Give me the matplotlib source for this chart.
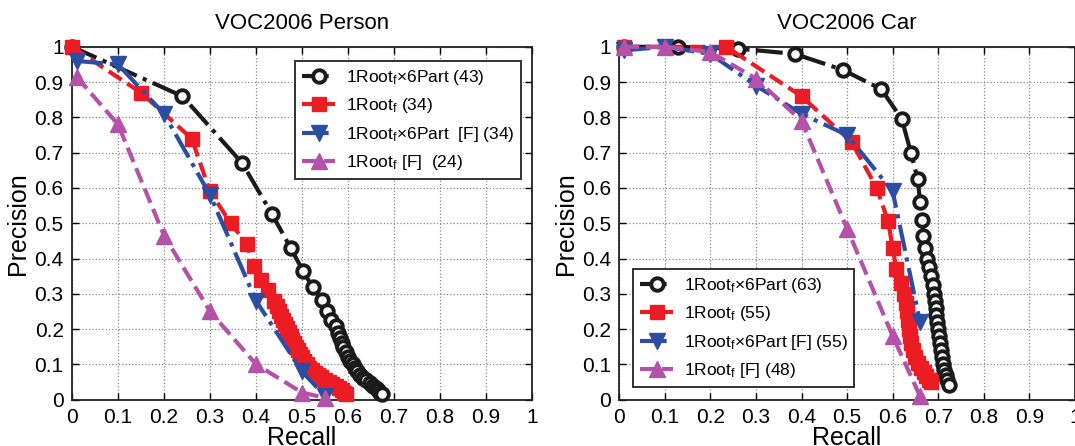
import matplotlib
matplotlib.use('Agg')
import matplotlib.pyplot as plt

plt.rcParams['font.family'] = ['Liberation Sans', 'DejaVu Sans']
plt.rcParams['mathtext.fontset'] = 'custom'
plt.rcParams['mathtext.rm'] = 'Liberation Sans'
plt.rcParams['mathtext.it'] = 'Liberation Sans'

# ---- VOC2006 Person ----
person_part_r = [0.0, 0.24, 0.37, 0.435, 0.475, 0.502, 0.523, 0.543, 0.555, 0.563, 0.573,
                 0.578, 0.582, 0.586, 0.59, 0.595, 0.6, 0.605, 0.61, 0.615, 0.62, 0.626,
                 0.632, 0.64, 0.647, 0.654, 0.66, 0.665, 0.67, 0.674]
person_part_p = [1.0, 0.86, 0.67, 0.525, 0.43, 0.365, 0.318, 0.282, 0.252, 0.225, 0.208,
                 0.19, 0.175, 0.16, 0.148, 0.135, 0.122, 0.11, 0.1, 0.09, 0.08, 0.07,
                 0.062, 0.055, 0.048, 0.04, 0.033, 0.026, 0.02, 0.015]
person_root_r = [0.0, 0.15, 0.26, 0.3, 0.345, 0.38, 0.395, 0.41, 0.425, 0.44, 0.445, 0.45,
                 0.455, 0.459, 0.463, 0.467, 0.471, 0.475, 0.479, 0.483, 0.487, 0.491,
                 0.495, 0.5, 0.505, 0.51, 0.516, 0.522, 0.528, 0.535, 0.542, 0.55, 0.558,
                 0.566, 0.574, 0.58, 0.586, 0.591, 0.595]
person_root_p = [1.0, 0.87, 0.74, 0.59, 0.5, 0.44, 0.38, 0.34, 0.31, 0.28, 0.265, 0.25,
                 0.237, 0.225, 0.213, 0.202, 0.191, 0.18, 0.17, 0.16, 0.15, 0.14,
                 0.13, 0.12, 0.11, 0.1, 0.091, 0.083, 0.076, 0.069, 0.063, 0.057, 0.051,
                 0.045, 0.038, 0.032, 0.026, 0.02, 0.015]
person_partF_r = [0.01, 0.1, 0.2, 0.3, 0.4, 0.5, 0.55]
person_partF_p = [0.96, 0.95, 0.81, 0.58, 0.28, 0.08, 0.01]
person_rootF_r = [0.01, 0.1, 0.2, 0.3, 0.4, 0.5, 0.55]
person_rootF_p = [0.915, 0.78, 0.465, 0.25, 0.1, 0.02, 0.005]

# ---- VOC2006 Car ----
car_part_r = [0.01, 0.13, 0.26, 0.385, 0.49, 0.575, 0.62, 0.64, 0.655, 0.66, 0.665, 0.667,
              0.672, 0.675, 0.68, 0.683, 0.688, 0.69, 0.692, 0.694, 0.696, 0.698, 0.7,
              0.702, 0.704, 0.706, 0.708, 0.71, 0.713, 0.716, 0.72, 0.724]
car_part_p = [1.0, 1.0, 0.995, 0.98, 0.935, 0.88, 0.795, 0.70, 0.625, 0.56, 0.51, 0.465,
              0.43, 0.40, 0.375, 0.35, 0.325, 0.3, 0.28, 0.26, 0.24, 0.22, 0.2,
              0.18, 0.16, 0.14, 0.12, 0.1, 0.085, 0.07, 0.055, 0.042]
car_root_r = [0.01, 0.235, 0.4, 0.51, 0.565, 0.59, 0.6, 0.608, 0.618, 0.625, 0.63, 0.632,
              0.634, 0.636, 0.638, 0.641, 0.645, 0.65, 0.656, 0.662, 0.668, 0.674, 0.68, 0.685]
car_root_p = [1.0, 1.0, 0.86, 0.73, 0.6, 0.505, 0.43, 0.37, 0.33, 0.30, 0.275, 0.25,
              0.225, 0.2, 0.18, 0.16, 0.14, 0.12, 0.105, 0.09, 0.078, 0.066, 0.055, 0.05]
car_partF_r = [0.01, 0.1, 0.2, 0.3, 0.4, 0.5, 0.6, 0.66]
car_partF_p = [0.99, 1.0, 0.98, 0.89, 0.81, 0.75, 0.59, 0.22]
car_rootF_r = [0.01, 0.1, 0.2, 0.3, 0.4, 0.5, 0.6, 0.66]
car_rootF_p = [1.0, 1.0, 0.985, 0.91, 0.79, 0.485, 0.18, 0.01]

person_labels = [r'1Root$_\mathrm{f}$×6Part (43)', r'1Root$_\mathrm{f}$ (34)',
                 r'1Root$_\mathrm{f}$×6Part  [F] (34)', r'1Root$_\mathrm{f}$ [F]  (24)']
car_labels = [r'1Root$_\mathrm{f}$×6Part (63)', r'1Root$_\mathrm{f}$ (55)',
              r'1Root$_\mathrm{f}$×6Part [F] (55)', r'1Root$_\mathrm{f}$ [F] (48)']

ticks = [0, 0.1, 0.2, 0.3, 0.4, 0.5, 0.6, 0.7, 0.8, 0.9, 1]
tick_labels = ['0', '0.1', '0.2', '0.3', '0.4', '0.5', '0.6', '0.7', '0.8', '0.9', '1']

BLACK = '#1a1a1a'
RED = '#ec1c24'
BLUE = '#2b4ea2'
MAGENTA = '#b452aa'


def draw_panel(ax, series, labels, title, legend_loc, legend_anchor):
    styles = [
        dict(color=BLACK, linestyle='-.', marker='o', markersize=9, markerfacecolor='white',
             markeredgecolor=BLACK, markeredgewidth=2.8, linewidth=3),
        dict(color=RED, linestyle='--', marker='s', markersize=10, markerfacecolor=RED,
             markeredgecolor=RED, linewidth=3),
        dict(color=BLUE, linestyle='-.', marker='v', markersize=12, markerfacecolor=BLUE,
             markeredgecolor=BLUE, linewidth=3),
        dict(color=MAGENTA, linestyle='--', marker='^', markersize=12, markerfacecolor=MAGENTA,
             markeredgecolor=MAGENTA, linewidth=3),
    ]
    for (r, p), lab, st in zip(series, labels, styles):
        ax.plot(r, p, label=lab, clip_on=False, zorder=3, **st)

    ax.set_xlim(0, 1)
    ax.set_ylim(0, 1)
    ax.set_xticks(ticks)
    ax.set_yticks(ticks)
    ax.set_xticklabels(tick_labels, fontsize=15)
    ax.set_yticklabels(tick_labels, fontsize=15)
    ax.tick_params(direction='in', length=5, width=1, top=True, right=True, pad=6)
    ax.grid(True, linestyle=':', color='#888888', linewidth=0.9)
    for s in ax.spines.values():
        s.set_linewidth(1.3)
        s.set_color('#222222')
    ax.set_title(title, fontsize=16, pad=13)
    ax.set_xlabel('Recall', fontsize=18, labelpad=-1)
    ax.set_ylabel('Precision', fontsize=18, labelpad=3)
    leg = ax.legend(loc=legend_loc, bbox_to_anchor=legend_anchor, fontsize=12.5,
                    fancybox=False, framealpha=1, edgecolor='#222222',
                    handlelength=1.9, handletextpad=0.6, labelspacing=0.55, borderpad=0.4)
    leg.get_frame().set_linewidth(1.3)


fig = plt.figure(figsize=(10.75, 4.46), dpi=100)
ax1 = fig.add_axes([0.067, 0.104, 0.428, 0.791])
ax2 = fig.add_axes([0.576, 0.104, 0.424, 0.791])

draw_panel(ax1,
           [(person_part_r, person_part_p), (person_root_r, person_root_p),
            (person_partF_r, person_partF_p), (person_rootF_r, person_rootF_p)],
           person_labels, 'VOC2006 Person', 'upper right', (0.995, 0.985))
draw_panel(ax2,
           [(car_part_r, car_part_p), (car_root_r, car_root_p),
            (car_partF_r, car_partF_p), (car_rootF_r, car_rootF_p)],
           car_labels, 'VOC2006 Car', 'lower left', (0.012, 0.01))

fig.savefig('out.png', dpi=100)
